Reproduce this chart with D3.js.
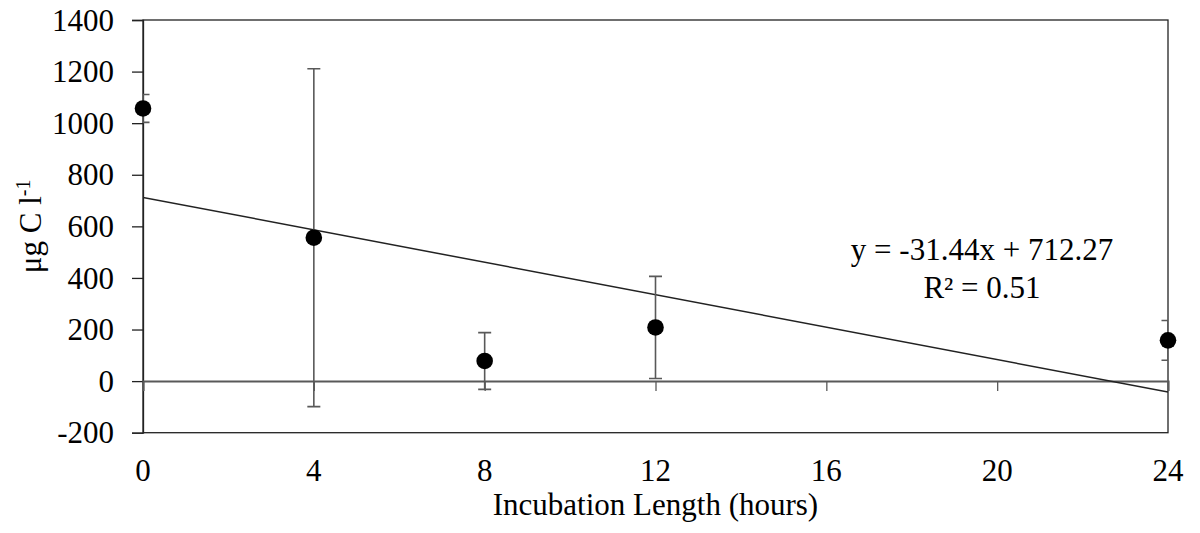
<!DOCTYPE html>
<html>
<head>
<meta charset="utf-8">
<script src="https://cdn.jsdelivr.net/npm/d3@7"></script>
<style>
  html, body { margin: 0; padding: 0; background: #fff; }
  svg { display: block; }
  text { font-family: "Liberation Serif", "Times New Roman", serif; fill: #000; }
</style>
</head>
<body>
<svg id="chart" width="1200" height="533"></svg>
<script>
// ---- data ----
const hours = [0, 4, 8, 12, 24];
const carbon = [1057, 556, 78, 208, 158];
const errors = [54, 655, 110, 198, 77];
const xTicks = [0, 4, 8, 12, 16, 20, 24];
const yTicks = [-200, 0, 200, 400, 600, 800, 1000, 1200, 1400];
const slope = -31.44;
const intercept = 712.27;
const eqLines = ["y = -31.44x + 712.27", "R² = 0.51"];

(function () {
// ---- layout ----
const svg = d3.select("#chart");
const mLeft = 143, mRight = 1168, mTop = 20, mBottom = 432.7;
const fs = 31;
const x = d3.scaleLinear().domain([0, 24]).range([mLeft, mRight]);
const y = d3.scaleLinear().domain([-200, 1400]).range([mBottom, mTop]);
const axisColor = "#595959";

svg.append("defs").append("clipPath").attr("id", "plotclip")
  .append("rect").attr("x", mLeft).attr("y", mTop).attr("width", mRight - mLeft).attr("height", mBottom - mTop);

// plot border
svg.append("rect").attr("x", mLeft).attr("y", mTop).attr("width", mRight - mLeft).attr("height", mBottom - mTop)
  .attr("fill", "none").attr("stroke", "#222").attr("stroke-width", 1.3);

// y axis
const yAxis = d3.axisLeft(y).tickValues(yTicks).tickSize(11).tickPadding(18).tickFormat(d => String(d));
const gy = svg.append("g").attr("transform", `translate(${mLeft},0)`).call(yAxis);
gy.attr("font-family", null).attr("font-size", null);
gy.select(".domain").attr("stroke", "#222").attr("stroke-width", 1.3);
gy.selectAll(".tick line").attr("stroke", "#222").attr("stroke-width", 1.3);
gy.selectAll(".tick text").attr("font-size", fs).attr("fill", "#000").attr("dy", "0.33em");

// x axis at y = 0 (horizontal line), ticks downward; labels placed low
const xAxis = d3.axisBottom(x).tickValues(xTicks).tickSize(10).tickFormat("");
const gx = svg.append("g").attr("transform", `translate(0,${y(0)})`).call(xAxis);
gx.select(".domain").attr("stroke", axisColor).attr("stroke-width", 2);
gx.selectAll(".tick line").attr("stroke", axisColor).attr("stroke-width", 1.3);

svg.append("g").selectAll("text").data(xTicks).join("text")
  .attr("x", d => x(d)).attr("y", 481)
  .attr("text-anchor", "middle").attr("font-size", fs).text(d => d);

// trendline
const plot = svg.append("g").attr("clip-path", "url(#plotclip)");
plot.append("line")
  .attr("x1", x(0)).attr("y1", y(intercept))
  .attr("x2", x(24)).attr("y2", y(slope * 24 + intercept))
  .attr("stroke", "#222").attr("stroke-width", 1.5);

// error bars
const eb = plot.append("g").attr("stroke", axisColor).attr("stroke-width", 1.6);
hours.forEach((h, i) => {
  const cx = x(h), hi = y(carbon[i] + errors[i]), lo = y(carbon[i] - errors[i]);
  eb.append("line").attr("x1", cx).attr("x2", cx).attr("y1", hi).attr("y2", lo);
  eb.append("line").attr("x1", cx - 6.5).attr("x2", cx + 6.5).attr("y1", hi).attr("y2", hi);
  eb.append("line").attr("x1", cx - 6.5).attr("x2", cx + 6.5).attr("y1", lo).attr("y2", lo);
});

// points
svg.append("g").selectAll("circle").data(hours).join("circle")
  .attr("cx", d => x(d)).attr("cy", (d, i) => y(carbon[i]))
  .attr("r", 8.3).attr("fill", "#000");

// equation
svg.append("g").selectAll("text").data(eqLines).join("text")
  .attr("x", 982).attr("y", (d, i) => 260 + i * 38)
  .attr("text-anchor", "middle").attr("font-size", fs).text(d => d);

// axis titles
svg.append("text").attr("x", (mLeft + mRight) / 2).attr("y", 515)
  .attr("text-anchor", "middle").attr("font-size", fs).text("Incubation Length (hours)");

const yt = svg.append("text").attr("transform", `translate(41,${(mTop + mBottom) / 2}) rotate(-90)`)
  .attr("text-anchor", "middle").attr("font-size", fs);
yt.append("tspan").text("μg C l");
yt.append("tspan").attr("dy", -11).attr("font-size", 20).text("-1");
})();
</script>
</body>
</html>
